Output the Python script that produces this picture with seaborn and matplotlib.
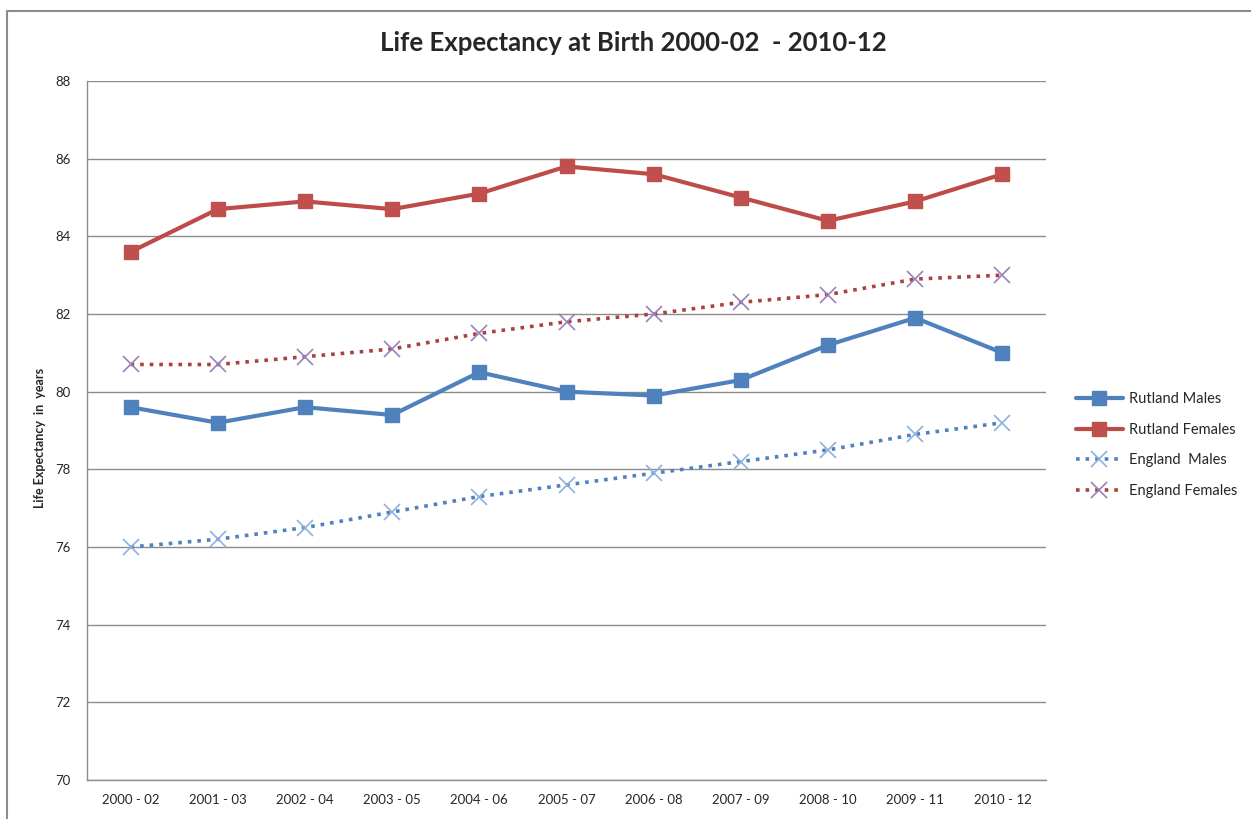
import pandas as pd
import matplotlib
matplotlib.use("Agg")
import matplotlib.pyplot as plt
from matplotlib.lines import Line2D
import seaborn as sns

# Datos
periods = ["2000 - 02", "2001 - 03", "2002 - 04", "2003 - 05", "2004 - 06", "2005 - 07",
           "2006 - 08", "2007 - 09", "2008 - 10", "2009 - 11", "2010 - 12"]
rutland_males = [79.6, 79.2, 79.6, 79.4, 80.5, 80.0, 79.9, 80.3, 81.2, 81.9, 81.0]
rutland_females = [83.6, 84.7, 84.9, 84.7, 85.1, 85.8, 85.6, 85.0, 84.4, 84.9, 85.6]
england_males = [76.0, 76.2, 76.5, 76.9, 77.3, 77.6, 77.9, 78.2, 78.5, 78.9, 79.2]
england_females = [80.7, 80.7, 80.9, 81.1, 81.5, 81.8, 82.0, 82.3, 82.5, 82.9, 83.0]

sns.set_style("white")
plt.rcParams['font.family'] = ['Lato', 'DejaVu Sans']

fig = plt.figure(figsize=(12.51, 8.19), dpi=100)
ax = fig.add_axes([87 / 1251, 39 / 819, (1046 - 87) / 1251, (780 - 81) / 819])

x = list(range(len(periods)))

# (etiqueta, valores, color línea, estilo, marcador, color marcador, ancho)
series = [
    ("Rutland Males", rutland_males, "#4F81BD", "-", "s", "#4F81BD", 3.0),
    ("Rutland Females", rutland_females, "#BE4B48", "-", "s", "#C0504D", 3.0),
    ("England  Males", england_males, "#4F81BD", ":", "x", "#8EB0DE", 2.6),
    ("England Females", england_females, "#A8413F", ":", "x", "#9A80BC", 2.6),
]

handles = []
for label, vals, color, ls, mk, mcolor, lw in series:
    style = dict(color=color, linestyle=ls, linewidth=lw, marker=mk,
                 markersize=10 if mk == "s" else 11,
                 markerfacecolor=mcolor, markeredgecolor=mcolor,
                 markeredgewidth=1 if mk == "s" else 1.2)
    sns.lineplot(x=x, y=vals, ax=ax, **style)
    handles.append(Line2D([0], [0], label=label, **style))

ax.set_xlim(-0.5, len(periods) - 0.5)
ax.set_ylim(70, 88)
ax.set_yticks(range(70, 89, 2))
ax.set_xticks(x)
ax.set_xticklabels(periods)
ax.tick_params(axis='both', labelsize=9.5, length=0, pad=10)
ax.tick_params(axis='y', pad=12)
ax.grid(axis='y', color="#8C8C8C", linewidth=1.0)
ax.set_axisbelow(True)
for side in ["top", "right"]:
    ax.spines[side].set_visible(False)
for side in ["left", "bottom"]:
    ax.spines[side].set_color("#8C8C8C")
    ax.spines[side].set_linewidth(1.0)

ax.set_ylabel("Life Expectancy  in  years", fontsize=9, fontweight="bold",
              fontstretch="condensed")
ax.yaxis.set_label_coords(-0.043, 0.49)

fig.text(0.506, 1 - 43 / 819, "Life Expectancy at Birth 2000-02  - 2010-12",
         ha="center", va="center", fontsize=18.5, fontweight="bold")

fig.legend(handles=handles, loc="center left", bbox_to_anchor=(1063 / 1251, 1 - 445 / 819),
           frameon=False, fontsize=10.5, handlelength=3.2, labelspacing=1.15,
           handletextpad=0.4)

# Marco del gráfico
fig.add_artist(Line2D([7 / 1251, 1.0], [1 - 11 / 819, 1 - 11 / 819], color="#8C8C8C", linewidth=1.5))
fig.add_artist(Line2D([7 / 1251, 7 / 1251], [0.0, 1 - 11 / 819], color="#8C8C8C", linewidth=1.5))

fig.savefig("out.png", dpi=100)
